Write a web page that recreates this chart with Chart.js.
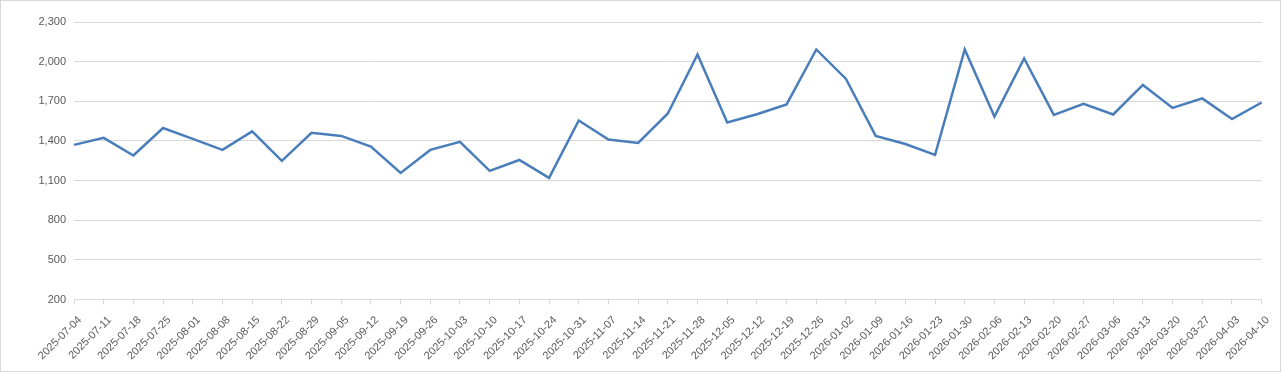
<!DOCTYPE html>
<html>
<head>
<meta charset="utf-8">
<script src="https://cdn.jsdelivr.net/npm/chart.js@4"></script>
<style>
    html, body { margin: 0; padding: 0; background: #fff; }
    #wrap {
        width: 1281px; height: 372px; box-sizing: border-box;
        border: 1px solid #d9d9d9; position: relative;
    }
    #chart { display: block; }
</style>
</head>
<body>
<div id="wrap"><canvas id="chart" width="1279" height="370"></canvas></div>
<script>
// weekly dates on the x axis
const weeks = [
    '2025-07-04', '2025-07-11', '2025-07-18', '2025-07-25', '2025-08-01', '2025-08-08',
    '2025-08-15', '2025-08-22', '2025-08-29', '2025-09-05', '2025-09-12', '2025-09-19',
    '2025-09-26', '2025-10-03', '2025-10-10', '2025-10-17', '2025-10-24', '2025-10-31',
    '2025-11-07', '2025-11-14', '2025-11-21', '2025-11-28', '2025-12-05', '2025-12-12',
    '2025-12-19', '2025-12-26', '2026-01-02', '2026-01-09', '2026-01-16', '2026-01-23',
    '2026-01-30', '2026-02-06', '2026-02-13', '2026-02-20', '2026-02-27', '2026-03-06',
    '2026-03-13', '2026-03-20', '2026-03-27', '2026-04-03', '2026-04-10'
];

// values
const values = [
    1370, 1423, 1290, 1498, 1415, 1332,
    1472, 1249, 1461, 1438, 1358, 1158,
    1332, 1393, 1173, 1256, 1120, 1555,
    1411, 1385, 1608, 2054, 1540, 1602,
    1676, 2092, 1869, 1438, 1377, 1294,
    2092, 1585, 2024, 1597, 1680, 1600,
    1824, 1650, 1722, 1566, 1691
];

const yMin = 200;
const yMax = 2300;
const yStep = 300;

const textColor = '#595959';
const gridColor = '#d9d9d9';

new Chart(document.getElementById('chart').getContext('2d'), {
    type: 'line',
    data: {
        labels: weeks,
        datasets: [{
            data: values,
            borderColor: '#4a7ebb',
            borderWidth: 2.5,
            tension: 0,
            fill: false,
            pointRadius: 0
        }]
    },
    options: {
        responsive: false,
        animation: false,
        layout: { padding: { top: 21, right: 18, left: 0, bottom: 0 } },
        plugins: {
            legend: { display: false },
            tooltip: { enabled: false }
        },
        scales: {
            x: {
                offset: false,
                grid: {
                    drawOnChartArea: false,
                    color: gridColor,
                    tickLength: 5
                },
                border: { color: gridColor },
                ticks: {
                    color: textColor,
                    font: { family: 'Liberation Sans', size: 11 },
                    autoSkip: false,
                    minRotation: 45,
                    maxRotation: 45,
                    padding: 9,
                    labelOffset: 6
                },
                afterFit: scale => { scale.height = 71.5; }
            },
            y: {
                min: yMin,
                max: yMax,
                grid: { color: gridColor, drawTicks: false },
                border: { display: false },
                ticks: {
                    stepSize: yStep,
                    color: textColor,
                    font: { family: 'Liberation Sans', size: 11 },
                    padding: 8,
                    callback: v => v.toLocaleString('en-US')
                },
                afterFit: scale => { scale.width = 73; }
            }
        }
    }
});
</script>
</body>
</html>
